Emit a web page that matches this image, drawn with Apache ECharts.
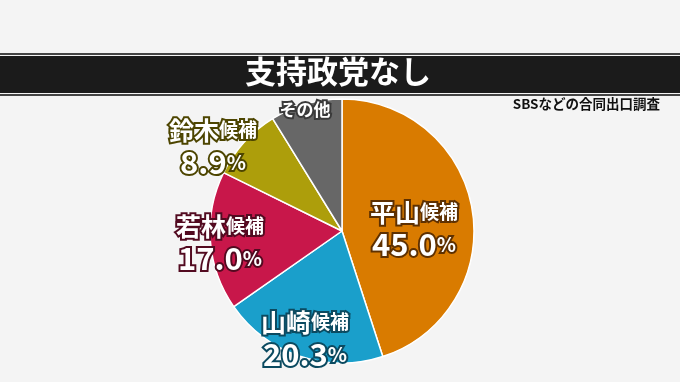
<!DOCTYPE html>
<html><head><meta charset="utf-8">
<script src="https://cdn.jsdelivr.net/npm/echarts@6/dist/echarts.min.js"></script>
<style>html,body{margin:0;padding:0;background:#f4f4f4}#c{width:680px;height:382px}</style>
</head><body><div id="c"></div>
<script>
const titleText = '支持政党なし';
const sourceText = 'SBSなどの合同出口調査';
const names = ['平山', '山崎', '若林', '鈴木', 'その他'];
const values = [45.0, 20.3, 17.0, 8.9, 8.8];
const suffix = ['候補', '候補', '候補', '候補', ''];
const colors = ['#d97b00', '#1a9fcb', '#c8174a', '#ad9e0b', '#676767'];
const outline = ['#5e3000', '#0b4a60', '#520a20', '#4d4500', '#3a3a3a'];
// label anchor positions (style only)
const labelPos = [[414, 228], [305, 338], [220, 242], [213, 146], [305, 110]];

const FONT = '"Noto Sans CJK JP", "Noto Sans", sans-serif';
const data = names.map((n, i) => ({
  name: n, value: values[i],
  itemStyle: { color: colors[i] },
  label: { textBorderColor: outline[i] }
}));

const chart = echarts.init(document.getElementById('c'));
chart.setOption({
  backgroundColor: '#f4f4f4',
  animation: false,
  graphic: [
    { type: 'rect', shape: { x: 0, y: 53, width: 680, height: 2 }, style: { fill: '#444' } },
    { type: 'rect', shape: { x: 0, y: 56, width: 680, height: 37 }, style: { fill: '#1b1b1b' } },
    { type: 'rect', shape: { x: 0, y: 94, width: 680, height: 2 }, style: { fill: '#444' } },
    { type: 'text', left: 340 - 95, top: 56, style: { text: titleText, fill: '#fff', font: 'bold 31px ' + FONT } },
    { type: 'text', right: 20, top: 97, style: { text: sourceText, fill: '#111', font: 'bold 13.5px ' + FONT } }
  ],
  series: [{
    type: 'pie',
    center: [342, 231],
    radius: 132,
    startAngle: 90,
    clockwise: true,
    data: data,
    itemStyle: { borderColor: '#fff', borderWidth: 1.5 },
    labelLine: { show: false },
    label: {
      show: true,
      position: 'inside',
      color: '#fff',
      textBorderWidth: 4,
      fontFamily: FONT,
      fontWeight: 'bold',
      lineHeight: 32,
      formatter: p => {
        const i = p.dataIndex;
        if (!suffix[i]) return '{o|' + names[i] + '}';
        return '{n|' + names[i] + '}{c|' + suffix[i] + '}\n{p|' + values[i].toFixed(1) + '}{s|%}';
      },
      rich: {
        n: { fontSize: 25, fontWeight: 'bold', fontFamily: FONT, lineHeight: 32 },
        c: { fontSize: 19, fontWeight: 'bold', fontFamily: FONT, lineHeight: 32 },
        p: { fontSize: 31, fontWeight: 'bold', fontFamily: FONT, lineHeight: 32 },
        s: { fontSize: 20, fontWeight: 'bold', fontFamily: FONT, lineHeight: 32 },
        o: { fontSize: 17, fontWeight: 'bold', fontFamily: FONT }
      }
    },
    labelLayout: p => ({
      x: labelPos[p.dataIndex][0],
      y: labelPos[p.dataIndex][1],
      align: 'center',
      verticalAlign: 'middle'
    })
  }]
});
</script></body></html>
